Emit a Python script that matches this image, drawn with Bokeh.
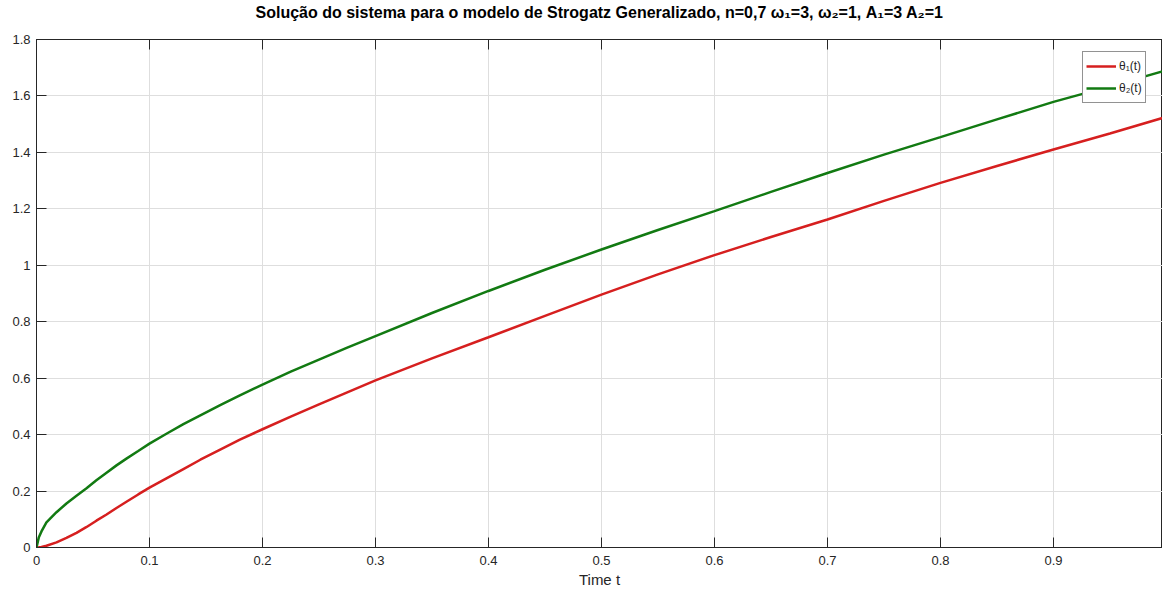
from bokeh.plotting import figure
from bokeh.models import Range1d, FixedTicker, LinearAxis, Legend, LegendItem, Title
from bokeh.embed import file_html
from bokeh.resources import INLINE

# ---- data ----
t = [0, 0.002, 0.0044, 0.0088, 0.0177, 0.0265, 0.0354, 0.044, 0.053, 0.062, 0.0708,
     0.0796, 0.09, 0.1, 0.115, 0.13, 0.145, 0.163, 0.18, 0.2, 0.225, 0.25, 0.275, 0.3,
     0.35, 0.4, 0.45, 0.5, 0.55, 0.6, 0.65, 0.7, 0.75, 0.8, 0.85, 0.9, 0.95, 0.9965]
theta1 = [0, 0.0005, 0.002, 0.006, 0.018, 0.034, 0.052, 0.072, 0.095, 0.117, 0.140,
          0.162, 0.188, 0.212, 0.245, 0.278, 0.311, 0.348, 0.382, 0.419, 0.464, 0.507,
          0.550, 0.592, 0.670, 0.745, 0.821, 0.896, 0.968, 1.036, 1.100, 1.162, 1.228,
          1.292, 1.352, 1.410, 1.467, 1.522]
theta2 = [0, 0.035, 0.057, 0.089, 0.125, 0.156, 0.183, 0.209, 0.238, 0.265, 0.291,
          0.315, 0.342, 0.368, 0.403, 0.437, 0.468, 0.505, 0.539, 0.577, 0.623, 0.666,
          0.708, 0.749, 0.831, 0.909, 0.984, 1.056, 1.125, 1.192, 1.260, 1.327, 1.392,
          1.454, 1.517, 1.579, 1.634, 1.687]

x_ticks = [0, 0.1, 0.2, 0.3, 0.4, 0.5, 0.6, 0.7, 0.8, 0.9]
x_labels = ["0", "0.1", "0.2", "0.3", "0.4", "0.5", "0.6", "0.7", "0.8", "0.9"]
y_ticks = [0, 0.2, 0.4, 0.6, 0.8, 1, 1.2, 1.4, 1.6, 1.8]
y_labels = ["0", "0.2", "0.4", "0.6", "0.8", "1", "1.2", "1.4", "1.6", "1.8"]

series_names = ["\u03b8\u2081(t)", "\u03b8\u2082(t)"]
series_colors = ["#d61f1f", "#127a12"]

title_text = ("Solu\u00e7\u00e3o do sistema para o modelo de Strogatz Generalizado, "
              "n=0,7 \u03c9\u2081=3, \u03c9\u2082=1, A\u2081=3 A\u2082=1")
x_label = "Time t"

FONT = "Liberation Sans"
AX = "#262626"

p = figure(width=1162, height=590, output_backend="svg", toolbar_location=None,
           x_range=Range1d(0, 0.9965), y_range=Range1d(0, 1.8),
           min_border_left=36, min_border_right=0, min_border_top=38, min_border_bottom=43,
           background_fill_color="white", border_fill_color="white")
p.title = None

p.outline_line_color = AX
p.outline_line_width = 1

def style_axis(ax, ticks, labels, show_labels=True):
    ax.ticker = FixedTicker(ticks=ticks)
    if show_labels:
        ax.major_label_overrides = {k: v for k, v in zip(ticks, labels)}
    else:
        ax.major_label_overrides = {k: " " for k in ticks}
    ax.major_tick_in = 10
    ax.major_tick_out = 0
    ax.minor_tick_line_color = None
    ax.axis_line_color = AX
    ax.major_tick_line_color = AX
    ax.major_label_text_font = FONT
    ax.major_label_text_font_size = "13px"
    ax.major_label_text_color = AX

style_axis(p.xaxis[0], x_ticks, x_labels)
style_axis(p.yaxis[0], y_ticks, y_labels)
p.xaxis[0].major_label_standoff = 8
p.yaxis[0].major_label_standoff = 6
p.xaxis[0].axis_label = x_label
p.xaxis[0].axis_label_text_font = FONT
p.xaxis[0].axis_label_text_font_size = "15px"
p.xaxis[0].axis_label_text_font_style = "normal"
p.xaxis[0].axis_label_text_color = AX
p.xaxis[0].axis_label_standoff = 3

# top axis (ticks only, blank labels that reserve a little room) next to the frame,
# then the title above it
top_ax = LinearAxis()
style_axis(top_ax, x_ticks, x_labels, show_labels=False)
top_ax.major_label_standoff = 0
p.add_layout(top_ax, "above")
p.add_layout(Title(text=title_text, align="center", text_font=FONT, text_font_size="16px",
                   text_font_style="bold", text_color="black", standoff=2), "above")

for g in p.grid:
    g.grid_line_color = "#dedede"
    g.grid_line_width = 1
p.xgrid.ticker = FixedTicker(ticks=x_ticks)
p.ygrid.ticker = FixedTicker(ticks=y_ticks)

r1 = p.line(t, theta1, line_color=series_colors[0], line_width=2.5)
r2 = p.line(t, theta2, line_color=series_colors[1], line_width=2.5)

legend = Legend(items=[LegendItem(label=series_names[0], renderers=[r1]),
                       LegendItem(label=series_names[1], renderers=[r2])],
                location=(1046, 444))
legend.label_text_font = FONT
legend.label_text_font_size = "12px"
legend.label_text_color = AX
legend.glyph_width = 30
legend.glyph_height = 22
legend.label_height = 22
legend.label_standoff = 3
legend.spacing = 0
legend.padding = 3
legend.margin = 0
legend.border_line_color = AX
legend.border_line_width = 1
legend.background_fill_color = "white"
legend.background_fill_alpha = 1
p.add_layout(legend, "center")

open("out.html", "w").write(file_html(p, INLINE))
